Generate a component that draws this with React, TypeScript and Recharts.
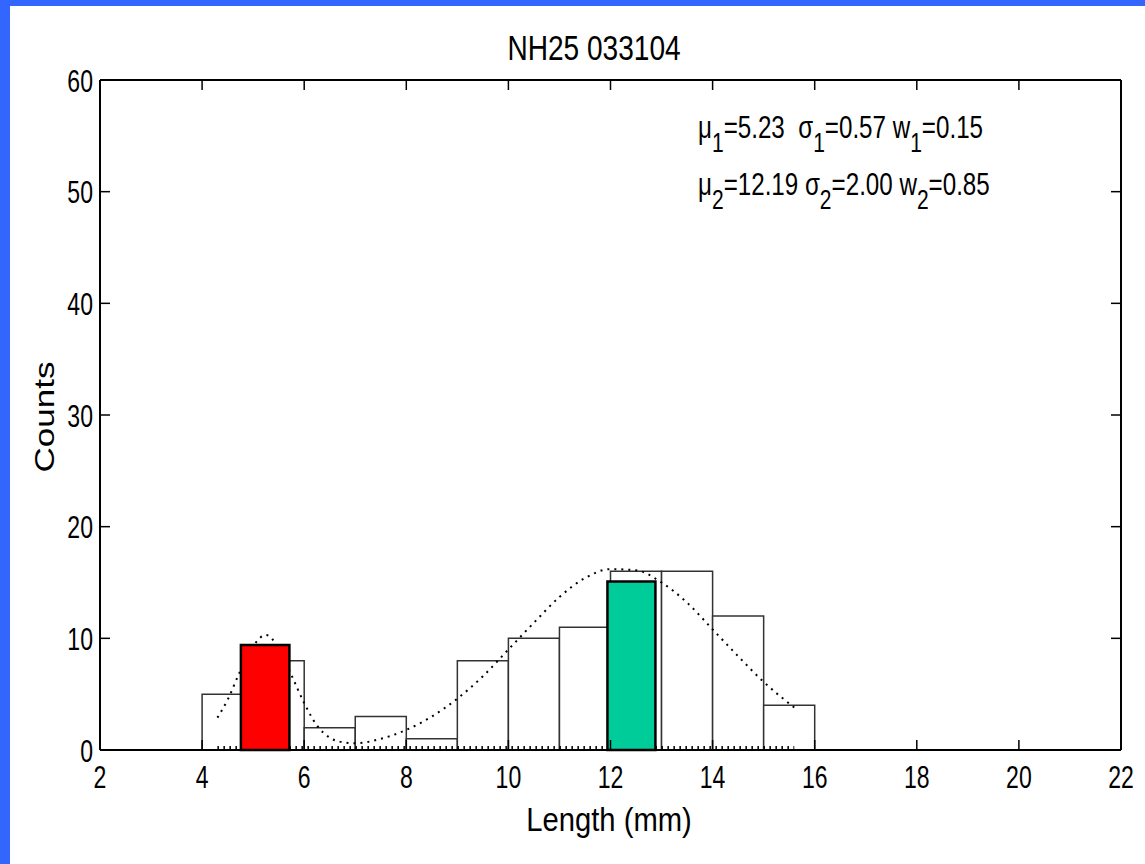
import React from 'react';
import { ComposedChart, XAxis, YAxis, Line, ReferenceArea } from 'recharts';

// ---------- data ----------
const xTicks = [2, 4, 6, 8, 10, 12, 14, 16, 18, 20, 22];
const yTicks = [0, 10, 20, 30, 40, 50, 60];

const binStarts = [4, 5, 6, 7, 8, 9, 10, 11, 12, 13, 14, 15];
const binCounts = [5, 8, 2, 3, 1, 8, 10, 11, 16, 16, 12, 4];
const binWidth = 1;

const modeLeft = [4.76, 11.94];
const modeRight = [5.71, 12.88];
const modeHeights = [9.4, 15.1];
const modeColors = ['#ff0000', '#00cc99'];

const curveX = [4.3, 4.5, 4.75, 5.0, 5.25, 5.5, 5.75, 6.0, 6.25, 6.5, 6.75, 7.0, 7.5, 8.0, 8.5, 9.0, 9.5, 10.0, 10.5, 11.0, 11.5, 12.0, 12.5, 13.0, 13.5, 14.0, 14.5, 15.0, 15.6];
const curveY = [2.9, 4.5, 7.1, 9.3, 10.3, 9.1, 6.7, 4.2, 2.2, 1.1, 0.7, 0.6, 1.0, 1.8, 3.0, 4.6, 6.6, 9.0, 11.4, 13.7, 15.4, 16.2, 16.1, 15.0, 13.2, 10.8, 8.4, 6.1, 3.8];

const baselineX = [4.3, 15.6];
const baselineY = [0.18, 0.18];

const titleText = 'NH25 033104';
const xLabel = 'Length (mm)';
const yLabel = 'Counts';
const fitMu = ['5.23', '12.19'];
const fitSigma = ['0.57', '2.00'];
const fitW = ['0.15', '0.85'];
const fitGap = ['  ', ' '];

// ---------- derived tables ----------
const curveData = curveX.map((x, i) => ({ x, y: curveY[i] }));
const baselineData = baselineX.map((x, i) => ({ x, y: baselineY[i] }));

const FONT = '"Liberation Sans", Arial, Helvetica, sans-serif';
const SX = 0.78;
const TICK_FONT = 32;
const TICK_SX = 0.72;

const XTick = (props: any) => {
  const { x, y, payload } = props;
  return (
    <text
      transform={`translate(${x},${y}) scale(${TICK_SX},1)`}
      textAnchor="middle"
      fontSize={TICK_FONT}
      fontFamily={FONT}
      fill="#000"
    >
      {payload.value}
    </text>
  );
};

const YTick = (props: any) => {
  const { x, y, payload } = props;
  return (
    <text
      transform={`translate(${x},${y + 11.5}) scale(${TICK_SX},1)`}
      textAnchor="end"
      fontSize={TICK_FONT}
      fontFamily={FONT}
      fill="#000"
    >
      {payload.value}
    </text>
  );
};

const EmptyTick = () => <g />;

const AXIS_STROKE = { stroke: '#000', strokeWidth: 2 };
const TICK_STROKE = { stroke: '#000', strokeWidth: 1.5 };

export default function App() {
  return (
    <div
      style={{
        position: 'absolute',
        left: 0,
        top: 0,
        width: 1145,
        height: 864,
        background: '#ffffff',
        overflow: 'hidden',
      }}
    >
      <ComposedChart
        width={1145}
        height={864}
        margin={{ top: 79, right: 23, bottom: 54, left: 0 }}
      >
        <XAxis
          xAxisId="b"
          dataKey="x"
          type="number"
          domain={[2, 22]}
          ticks={xTicks}
          interval={0}
          allowDataOverflow
          orientation="bottom"
          height={60}
          axisLine={AXIS_STROKE}
          tickLine={TICK_STROKE}
          tickSize={-10}
          tickMargin={48}
          tick={<XTick />}
        />
        <XAxis
          xAxisId="t"
          dataKey="x"
          type="number"
          domain={[2, 22]}
          ticks={xTicks}
          interval={0}
          allowDataOverflow
          orientation="top"
          height={1}
          axisLine={AXIS_STROKE}
          tickLine={TICK_STROKE}
          tickSize={-10}
          tick={<EmptyTick />}
        />
        <YAxis
          yAxisId="l"
          type="number"
          domain={[0, 60]}
          ticks={yTicks}
          interval={0}
          allowDataOverflow
          orientation="left"
          width={100}
          axisLine={AXIS_STROKE}
          tickLine={TICK_STROKE}
          tickSize={-10}
          tickMargin={17}
          tick={<YTick />}
        />
        <YAxis
          yAxisId="r"
          type="number"
          domain={[0, 60]}
          ticks={yTicks}
          interval={0}
          allowDataOverflow
          orientation="right"
          width={1}
          axisLine={AXIS_STROKE}
          tickLine={TICK_STROKE}
          tickSize={-10}
          tick={<EmptyTick />}
        />

        {binStarts.map((s, i) => (
          <ReferenceArea
            key={`bin-${i}`}
            xAxisId="b"
            yAxisId="l"
            x1={s}
            x2={s + binWidth}
            y1={0}
            y2={binCounts[i]}
            fill="#ffffff"
            fillOpacity={1}
            stroke="#333333"
            strokeWidth={1.5}
            zIndex={100}
          />
        ))}

        <Line
          xAxisId="t"
          yAxisId="r"
          data={baselineData}
          dataKey="y"
          type="linear"
          stroke="#000"
          strokeWidth={4}
          strokeDasharray="1.5 4.5"
          dot={false}
          activeDot={false}
          isAnimationActive={false}
        />
        <Line
          xAxisId="b"
          yAxisId="l"
          data={curveData}
          dataKey="y"
          type="monotone"
          stroke="#000"
          strokeWidth={2}
          strokeDasharray="2 5"
          dot={false}
          activeDot={false}
          isAnimationActive={false}
        />

        {modeLeft.map((l, i) => (
          <ReferenceArea
            key={`mode-${i}`}
            xAxisId="b"
            yAxisId="l"
            x1={l}
            x2={modeRight[i]}
            y1={0}
            y2={modeHeights[i]}
            fill={modeColors[i]}
            fillOpacity={1}
            stroke="#000"
            strokeWidth={2.5}
            zIndex={450}
          />
        ))}
      </ComposedChart>

      <svg
        width={1145}
        height={864}
        style={{ position: 'absolute', left: 0, top: 0, pointerEvents: 'none' }}
      >
        <text
          transform={`translate(594,60) scale(${SX},1)`}
          textAnchor="middle"
          fontSize={36}
          fontFamily={FONT}
          fill="#000"
        >
          {titleText}
        </text>
        <text
          transform={`translate(609,831) scale(0.86,1)`}
          textAnchor="middle"
          fontSize={34}
          fontFamily={FONT}
          fill="#000"
        >
          {xLabel}
        </text>
        <text
          transform={`translate(54,417) scale(1,1.25) rotate(-90)`}
          textAnchor="middle"
          fontSize={28}
          fontFamily={FONT}
          fill="#000"
        >
          {yLabel}
        </text>
        {fitMu.map((mu, i) => (
          <text
            key={`fit-${i}`}
            transform={`translate(698,${138 + i * 57}) scale(${SX},1)`}
            textAnchor="start"
            fontSize={31}
            fontFamily={FONT}
            fill="#000"
            style={{ whiteSpace: 'pre' }}
          >
            <tspan>μ</tspan>
            <tspan dy={14} fontSize={27}>{i + 1}</tspan>
            <tspan dy={-14}>{`=${mu}${fitGap[i]}σ`}</tspan>
            <tspan dy={14} fontSize={27}>{i + 1}</tspan>
            <tspan dy={-14}>{`=${fitSigma[i]} w`}</tspan>
            <tspan dy={14} fontSize={27}>{i + 1}</tspan>
            <tspan dy={-14}>{`=${fitW[i]}`}</tspan>
          </text>
        ))}
      </svg>

      <div style={{ position: 'absolute', left: 0, top: 0, width: 1145, height: 6, background: '#3366ff' }} />
      <div style={{ position: 'absolute', left: 0, top: 0, width: 10, height: 864, background: '#3366ff' }} />
    </div>
  );
}
